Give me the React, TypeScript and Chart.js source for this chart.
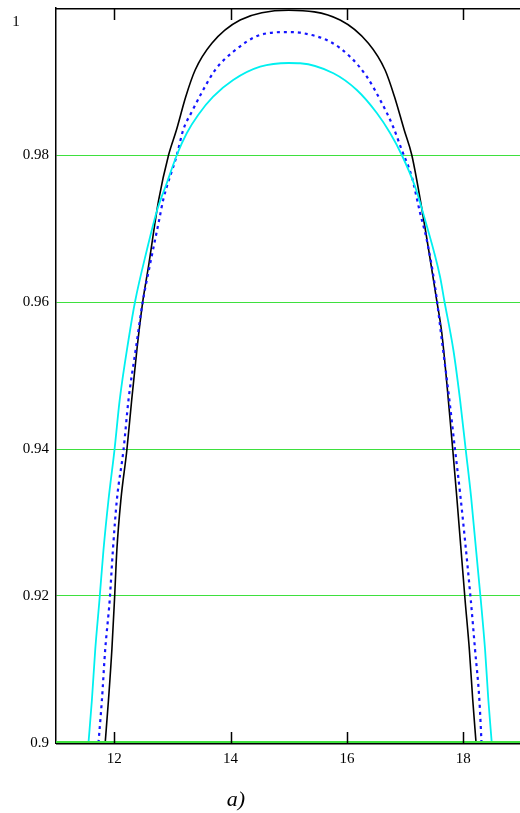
import React, { useEffect, useRef } from "react";
import { Chart, registerables } from "chart.js";

Chart.register(...registerables);

// Tick values and labels
const xTickValues = [12, 14, 16, 18];
const xTickLabels = ["12", "14", "16", "18"];
const yTickValues = [0.9, 0.92, 0.94, 0.96, 0.98];
const yTickLabels = ["0.9", "0.92", "0.94", "0.96", "0.98"];
const yTopLabel = "1";
const caption = "a)";

// Black solid curve
const blackX = [11.845, 11.902, 11.96, 12.005, 12.046, 12.115, 12.218, 12.301, 12.39, 12.493, 12.589, 12.765, 12.935, 13.07, 13.23, 13.392, 13.679, 14.165, 15.0, 15.883, 16.369, 16.656, 16.818, 16.985, 17.115, 17.3, 17.545, 17.631, 17.717, 17.82, 17.888, 18.031, 18.105, 18.163, 18.22];
const blackY = [0.9, 0.90585, 0.91265, 0.91946, 0.92626, 0.93306, 0.93986, 0.94667, 0.95347, 0.96014, 0.9648, 0.97388, 0.98, 0.9834, 0.98793, 0.99156, 0.9952, 0.99837, 0.9997, 0.99837, 0.9952, 0.99156, 0.98793, 0.9834, 0.98, 0.97211, 0.96014, 0.95578, 0.94898, 0.93986, 0.93351, 0.91946, 0.91265, 0.90585, 0.9];

// Blue dotted curve
const blueX = [11.73, 11.789, 11.845, 11.923, 11.978, 12.046, 12.16, 12.246, 12.369, 12.493, 12.608, 12.773, 12.842, 13.077, 13.186, 13.335, 13.529, 13.735, 14.045, 14.509, 15.0, 15.196, 15.711, 16.055, 16.342, 16.6, 16.794, 16.943, 17.115, 17.258, 17.373, 17.515, 17.631, 17.761, 17.859, 17.945, 18.129, 18.203, 18.277, 18.314];
const blueY = [0.9, 0.90585, 0.91265, 0.91946, 0.92626, 0.93306, 0.93986, 0.94667, 0.95347, 0.96014, 0.9648, 0.97116, 0.97388, 0.98, 0.9834, 0.98589, 0.98884, 0.99156, 0.99405, 0.99633, 0.99673, 0.99664, 0.99541, 0.99337, 0.99065, 0.98707, 0.98385, 0.98068, 0.97705, 0.97211, 0.96844, 0.96208, 0.95483, 0.94667, 0.93986, 0.93401, 0.91946, 0.91265, 0.90585, 0.9];

// Cyan solid curve
const cyanX = [11.558, 11.617, 11.674, 11.747, 11.816, 11.902, 12.005, 12.095, 12.246, 12.361, 12.562, 12.739, 12.905, 13.077, 13.249, 13.443, 13.701, 14.045, 14.509, 15.0, 15.196, 15.768, 16.17, 16.514, 16.742, 16.943, 17.172, 17.344, 17.601, 17.675, 17.83, 17.945, 18.043, 18.134, 18.301, 18.375, 18.431, 18.49];
const cyanY = [0.9, 0.90585, 0.91265, 0.91946, 0.92626, 0.93306, 0.93986, 0.94667, 0.95483, 0.96014, 0.96707, 0.97252, 0.97619, 0.98, 0.98299, 0.98544, 0.98793, 0.9902, 0.99201, 0.99252, 0.99248, 0.99112, 0.98884, 0.98571, 0.98299, 0.98, 0.97569, 0.97116, 0.96344, 0.96014, 0.95347, 0.94667, 0.93986, 0.93351, 0.91946, 0.91265, 0.90585, 0.9];

const toPoints = (xs: number[], ys: number[]) => xs.map((x, i) => ({ x, y: ys[i] }));

const FONT = "'Liberation Serif', 'Times New Roman', serif";
const GREEN = "#3ee03e";

const framePlugin = {
  id: "frame",
  afterDraw(chart: any) {
    const { ctx, chartArea } = chart;
    const xs = chart.scales.x;
    const { left, right, top, bottom } = chartArea;
    ctx.save();
    // bottom green grid line + black axis
    ctx.fillStyle = GREEN;
    ctx.fillRect(left, bottom - 2, right - left, 2);
    ctx.fillStyle = "#000";
    ctx.fillRect(left, bottom, right - left, 1.5);
    // top border
    ctx.fillRect(left, top, right - left, 1.5);
    // inner ticks on x
    ctx.strokeStyle = "#000";
    ctx.lineWidth = 1.5;
    xTickValues.forEach((v) => {
      const px = Math.round(xs.getPixelForValue(v)) + 0.5;
      ctx.beginPath();
      ctx.moveTo(px, bottom);
      ctx.lineTo(px, bottom - 11);
      ctx.moveTo(px, top);
      ctx.lineTo(px, top + 12);
      ctx.stroke();
    });
    // top y label
    ctx.fillStyle = "#000";
    ctx.font = `15px ${FONT}`;
    ctx.textAlign = "center";
    ctx.textBaseline = "middle";
    ctx.fillText(yTopLabel, 16, top + 14);
    ctx.restore();
  },
};

export default function App() {
  const ref = useRef<HTMLCanvasElement | null>(null);

  useEffect(() => {
    if (!ref.current) return;
    const chart = new Chart(ref.current, {
      type: "scatter",
      data: {
        datasets: [
          {
            data: toPoints(cyanX, cyanY),
            showLine: true,
            borderColor: "#00f0f0",
            borderWidth: 1.8,
            pointRadius: 0,
            cubicInterpolationMode: "monotone",
          },
          {
            data: toPoints(blueX, blueY),
            showLine: true,
            borderColor: "#1414ff",
            borderWidth: 2.2,
            borderDash: [3, 4],
            pointRadius: 0,
            cubicInterpolationMode: "monotone",
          },
          {
            data: toPoints(blackX, blackY),
            showLine: true,
            borderColor: "#000000",
            borderWidth: 1.6,
            pointRadius: 0,
            cubicInterpolationMode: "monotone",
          },
        ],
      },
      options: {
        animation: false,
        responsive: false,
        layout: { padding: { left: 0, top: 8, right: 0, bottom: 40 } },
        plugins: { legend: { display: false }, tooltip: { enabled: false } },
        scales: {
          x: {
            type: "linear",
            min: 11,
            max: 18.975,
            afterFit: (s: any) => {
              s.height = 30;
              s.paddingLeft = 0;
              s.paddingRight = 0;
            },
            afterBuildTicks: (s: any) => {
              s.ticks = xTickValues.map((v) => ({ value: v }));
            },
            grid: { display: false, drawTicks: false },
            border: { display: false },
            ticks: {
              padding: 7,
              color: "#000",
              font: { family: FONT, size: 15 },
              maxRotation: 0,
              callback: (v: any) => {
                const i = xTickValues.indexOf(Number(v));
                return i >= 0 ? xTickLabels[i] : "";
              },
            },
          },
          y: {
            type: "linear",
            min: 0.9,
            max: 1.0,
            afterFit: (s: any) => {
              s.width = 56;
              s.paddingTop = 0;
              s.paddingBottom = 0;
            },
            afterBuildTicks: (s: any) => {
              s.ticks = yTickValues.map((v) => ({ value: v }));
            },
            grid: {
              drawTicks: false,
              color: (c: any) => (c.tick && Math.abs(c.tick.value - 0.9) < 1e-9 ? "rgba(0,0,0,0)" : GREEN),
              lineWidth: 1,
            },
            border: { display: true, color: "#000", width: 1.5 },
            ticks: {
              padding: 7,
              color: "#000",
              font: { family: FONT, size: 15 },
              callback: (v: any) => {
                const i = yTickValues.findIndex((t) => Math.abs(t - Number(v)) < 1e-9);
                return i >= 0 ? yTickLabels[i] : "";
              },
            },
          },
        },
      },
      plugins: [framePlugin],
    });
    return () => chart.destroy();
  }, []);

  return (
    <div style={{ position: "absolute", left: 0, top: 0, width: 520, height: 813, background: "#fff", overflow: "hidden" }}>
      <canvas ref={ref} width={520} height={813} style={{ display: "block" }} />
      <div
        style={{
          position: "absolute",
          left: 206,
          width: 60,
          top: 786,
          textAlign: "center",
          fontFamily: FONT,
          fontStyle: "italic",
          fontSize: 22,
          color: "#000",
        }}
      >
        {caption}
      </div>
    </div>
  );
}
